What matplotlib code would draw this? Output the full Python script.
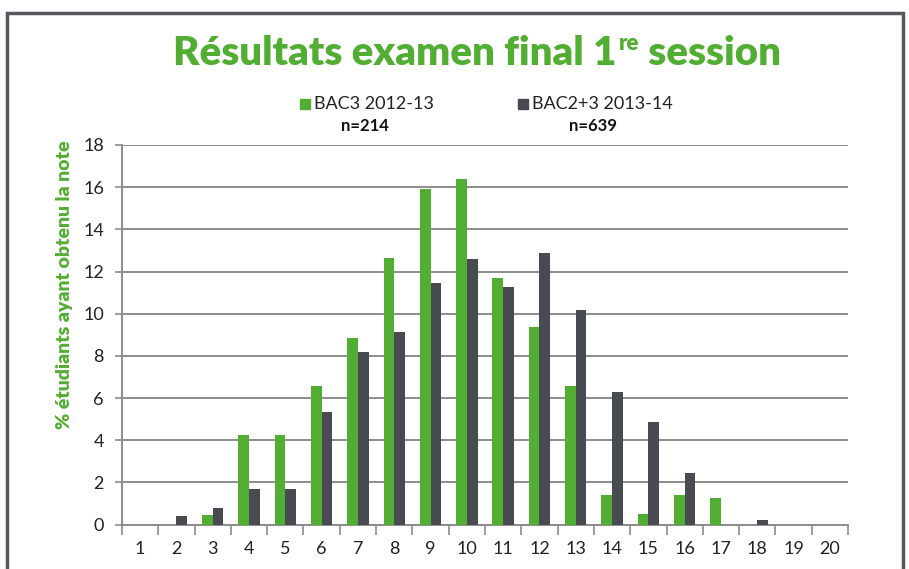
import numpy as np
import matplotlib.pyplot as plt
from matplotlib import font_manager
from matplotlib.patches import Rectangle

# Données
notes = list(range(1, 21))
bac3_2012 = [0, 0, 0.46, 4.25, 4.25, 6.57, 8.85, 12.64, 15.9, 16.38,
             11.69, 9.37, 6.57, 1.41, 0.51, 1.41, 1.27, 0, 0, 0]
bac23_2013 = [0, 0.42, 0.8, 1.7, 1.7, 5.34, 8.18, 9.14, 11.45, 12.6,
              11.26, 12.87, 10.2, 6.29, 4.87, 2.45, 0, 0.22, 0, 0]
labels = ['BAC3 2012-13', 'BAC2+3 2013-14']
effectifs = ['n=214', 'n=639']

vert = '#52AE32'
gris = '#484B52'

noms = {f.name for f in font_manager.fontManager.ttflist}
texte_font = 'Lato' if 'Lato' in noms else 'DejaVu Sans'
titre_font = texte_font
plt.rcParams['font.family'] = texte_font

fig = plt.figure(figsize=(9.09, 5.69), dpi=100)
ax = fig.add_axes([0.1342, 0.0779, 0.7987, 0.6673])

x = np.arange(len(notes))
w = 0.295
ax.bar(x - w / 2, bac3_2012, w, color=vert, zorder=3)
ax.bar(x + w / 2, bac23_2013, w, color=gris, zorder=3)

ax.set_xlim(-0.5, len(notes) - 0.5)
ax.set_ylim(0, 18)
ax.set_yticks(range(0, 19, 2))
ax.yaxis.grid(True, color='#8c8c8c', lw=1.4, zorder=0)
ax.set_xticks(x)
ax.set_xticklabels([str(n) for n in notes], fontsize=13, color='#222222')
ax.set_xticks(np.arange(-0.5, len(notes)), minor=True)
ax.tick_params(axis='x', which='major', length=0, pad=12)
ax.tick_params(axis='x', which='minor', length=7, width=1.2, color='#8c8c8c')
ax.tick_params(axis='y', length=5, width=1.2, color='#8c8c8c', labelsize=13,
               labelcolor='#222222', pad=8)
for s in ['top', 'right']:
    ax.spines[s].set_visible(False)
ax.spines['left'].set_color('#8c8c8c')
ax.spines['left'].set_linewidth(1.4)
ax.spines['bottom'].set_color('#8c8c8c')
ax.spines['bottom'].set_linewidth(1.4)

# titre de l'axe y (placé comme sur l'original)
fig.text(65 / 909, 1 - 285 / 569, '% étudiants ayant obtenu la note', fontsize=14,
         color=vert, fontweight='heavy', family=titre_font, rotation=90,
         ha='center', va='center')

# cadre autour de la figure
fig.patches.append(Rectangle((7 / 909, -0.1), 896 / 909, 1.1 - 13 / 569,
                             transform=fig.transFigure, fill=False,
                             edgecolor='#55585e', lw=2.5))

# titre en trois morceaux pour l'exposant
fig.canvas.draw()
r = fig.canvas.get_renderer()
y_titre = 1 - 65 / 569
t1 = fig.text(0, y_titre, 'Résultats examen final 1', fontsize=29, color=vert,
              fontweight='heavy', family=titre_font)
bb1 = t1.get_window_extent(r)
t2 = fig.text(bb1.x1 / 909 + 0.002, y_titre + 0.026, 're', fontsize=16, color=vert,
              fontweight='heavy', family=titre_font)
bb2 = t2.get_window_extent(r)
t3 = fig.text(bb2.x1 / 909, y_titre, ' session', fontsize=29, color=vert,
              fontweight='heavy', family=titre_font)
bb3 = t3.get_window_extent(r)
largeur = bb3.x1 - bb1.x0
decal = (477 - largeur / 2) / 909
for t in (t1, t2, t3):
    px, py = t.get_position()
    t.set_position((px + decal, py))

# légende
for lab, n, col, xs in zip(labels, effectifs, [vert, gris], [300, 518]):
    fig.patches.append(Rectangle((xs / 909, 1 - 109 / 569), 10 / 909, 10 / 569,
                                 transform=fig.transFigure, color=col))
    tl = fig.text((xs + 14) / 909, 1 - 104 / 569, lab, fontsize=13,
                  color='#222222', va='center')
    bb = tl.get_window_extent(r)
    fig.text((xs + 14 + bb.width / 2) / 909 - 0.01, 1 - 126 / 569, n, fontsize=12,
             fontweight='bold', color='#111111', ha='center', va='center')

fig.savefig('out.png', dpi=100)
